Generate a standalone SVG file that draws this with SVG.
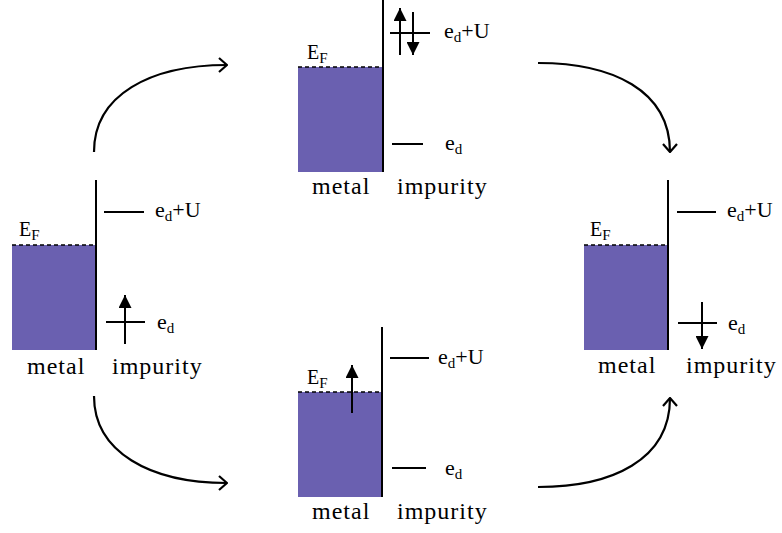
<svg xmlns="http://www.w3.org/2000/svg" width="782" height="533" viewBox="0 0 782 533">
<style>
.band{fill:#6a60b0;stroke:none}
.ef{stroke:#000;stroke-width:1.6;stroke-dasharray:4 3;fill:none}
.wall{stroke:#000;stroke-width:2;fill:none}
.lvl{stroke:#000;stroke-width:2;fill:none}
.spin{stroke:#000;stroke-width:2;fill:none}
.cur{stroke:#000;stroke-width:2.2;fill:none;marker-end:url(#open)}
.lab{font-family:"Liberation Serif","Times New Roman",serif;font-size:22px;fill:#000}
.efl{font-family:"Liberation Serif","Times New Roman",serif;font-size:20px;fill:#000}
.cap{font-family:"Liberation Serif","Times New Roman",serif;font-size:24px;letter-spacing:1px;fill:#000}
.sub{font-size:15px}
</style>
<defs>
<marker id="head" viewBox="0 0 10 10" refX="10" refY="5" markerWidth="13" markerHeight="13" markerUnits="userSpaceOnUse" orient="auto">
<path d="M0,0 L10,5 L0,10 z" fill="#000"/>
</marker>
<marker id="open" viewBox="0 0 10 16" refX="9" refY="8" markerWidth="10" markerHeight="16" markerUnits="userSpaceOnUse" orient="auto">
<path d="M1,1 L9,8 L1,15" fill="none" stroke="#000" stroke-width="2.2"/>
</marker>
</defs>

<g id="state-left">
<rect class="band" x="12" y="245" width="84" height="105"/>
<line class="ef" x1="12" y1="245" x2="96" y2="245"/>
<line class="wall" x1="96" y1="180" x2="96" y2="350"/>
<text class="efl" x="19" y="236">E<tspan class="sub" dy="4">F</tspan></text>
<line class="lvl" x1="104" y1="212" x2="144" y2="212"/>
<text class="lab" x="155" y="217">e<tspan class="sub" dy="3.5">d</tspan><tspan dy="-3.5">+U</tspan></text>
<line class="lvl" x1="106" y1="322" x2="145" y2="322"/>
<line class="spin" x1="125" y1="344" x2="125" y2="295" marker-end="url(#head)"/>
<text class="lab" x="157" y="329">e<tspan class="sub" dy="3.5">d</tspan></text>
<text class="cap" x="27" y="374">metal</text>
<text class="cap" x="112" y="374">impurity</text>
</g>

<g id="state-top">
<rect class="band" x="298" y="67" width="85" height="105"/>
<line class="ef" x1="298" y1="67" x2="383" y2="67"/>
<line class="wall" x1="383" y1="0" x2="383" y2="172"/>
<text class="efl" x="307" y="59">E<tspan class="sub" dy="4">F</tspan></text>
<line class="lvl" x1="390" y1="33" x2="430" y2="33"/>
<line class="spin" x1="400" y1="55" x2="400" y2="8" marker-end="url(#head)"/>
<line class="spin" x1="413" y1="12" x2="413" y2="55" marker-end="url(#head)"/>
<text class="lab" x="444" y="38">e<tspan class="sub" dy="3.5">d</tspan><tspan dy="-3.5">+U</tspan></text>
<line class="lvl" x1="392" y1="144" x2="423" y2="144"/>
<text class="lab" x="445" y="150">e<tspan class="sub" dy="3.5">d</tspan></text>
<text class="cap" x="312" y="194">metal</text>
<text class="cap" x="397" y="194">impurity</text>
</g>

<g id="state-bottom">
<rect class="band" x="298" y="392" width="84" height="105"/>
<line class="ef" x1="298" y1="392" x2="382" y2="392"/>
<line class="wall" x1="382" y1="327" x2="382" y2="497"/>
<text class="efl" x="307" y="384">E<tspan class="sub" dy="4">F</tspan></text>
<line class="spin" x1="352" y1="413" x2="352" y2="365" marker-end="url(#head)"/>
<line class="lvl" x1="390" y1="358" x2="429" y2="358"/>
<text class="lab" x="438" y="364">e<tspan class="sub" dy="3.5">d</tspan><tspan dy="-3.5">+U</tspan></text>
<line class="lvl" x1="392" y1="468" x2="426" y2="468"/>
<text class="lab" x="445" y="475">e<tspan class="sub" dy="3.5">d</tspan></text>
<text class="cap" x="312" y="519">metal</text>
<text class="cap" x="397" y="519">impurity</text>
</g>

<g id="state-right">
<rect class="band" x="584" y="245" width="84" height="105"/>
<line class="ef" x1="584" y1="245" x2="668" y2="245"/>
<line class="wall" x1="668" y1="180" x2="668" y2="350"/>
<text class="efl" x="590" y="236">E<tspan class="sub" dy="4">F</tspan></text>
<line class="lvl" x1="677" y1="212" x2="716" y2="212"/>
<text class="lab" x="727" y="217">e<tspan class="sub" dy="3.5">d</tspan><tspan dy="-3.5">+U</tspan></text>
<line class="lvl" x1="678" y1="323" x2="717" y2="323"/>
<line class="spin" x1="702" y1="302" x2="702" y2="349" marker-end="url(#head)"/>
<text class="lab" x="728" y="330">e<tspan class="sub" dy="3.5">d</tspan></text>
<text class="cap" x="598" y="373">metal</text>
<text class="cap" x="686" y="373">impurity</text>
</g>

<g id="connectors">
<path class="cur" d="M94,152 C94,95 150,65 227,65"/>
<path class="cur" d="M94,396 C94,452 150,483 227,483"/>
<path class="cur" d="M538,63 C612,63 670,90 670,152"/>
<path class="cur" d="M538,487 C612,487 670,460 670,398"/>
</g>
</svg>
